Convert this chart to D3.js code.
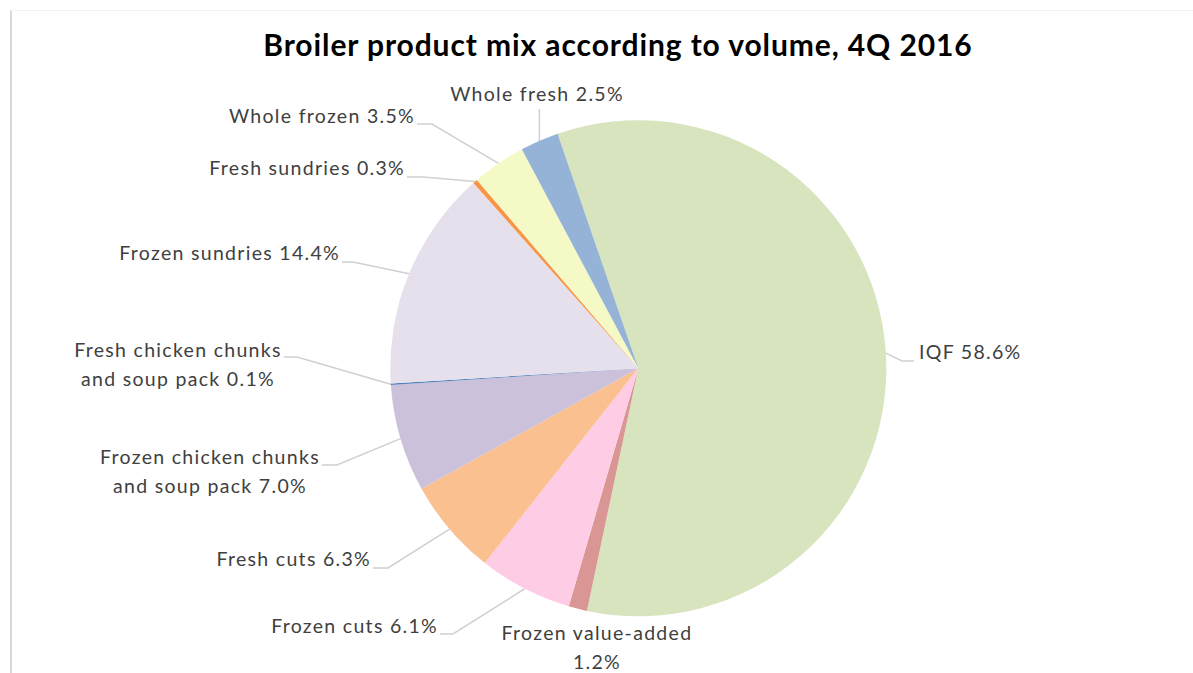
<!DOCTYPE html>
<html>
<head>
<meta charset="utf-8">
<script src="https://cdn.jsdelivr.net/npm/d3@7"></script>
<style>
  html, body { margin: 0; padding: 0; background: #fff; }
  svg { display: block; }
</style>
</head>
<body>
<svg id="chart" width="1193" height="673"></svg>
<script>
// Broiler product mix by volume, 4Q 2016 (percent of total)
const categories = [
  "IQF",
  "Frozen value-added",
  "Frozen cuts",
  "Fresh cuts",
  "Frozen chicken chunks and soup pack",
  "Fresh chicken chunks and soup pack",
  "Frozen sundries",
  "Fresh sundries",
  "Whole frozen",
  "Whole fresh"
];
const shares = [58.6, 1.2, 6.1, 6.3, 7.0, 0.1, 14.4, 0.3, 3.5, 2.5];

// Label text lines (the percentage is appended to the last line)
const labelLines = [
  ["IQF"],
  ["Frozen value-added", ""],
  ["Frozen cuts"],
  ["Fresh cuts"],
  ["Frozen chicken chunks", "and soup pack"],
  ["Fresh chicken chunks", "and soup pack"],
  ["Frozen sundries"],
  ["Fresh sundries"],
  ["Whole frozen"],
  ["Whole fresh"]
];

const sliceColors = [
  "#d7e4bd", "#d99694", "#ffcce6", "#fac090", "#ccc1da",
  "#4f81bd", "#e6e0ec", "#f79646", "#f4f9c6", "#95b3d7"
];

// Label placement: anchor point, text anchor, elbow of leader line
const labelLayout = [
  { x: 919, y: 359, anchor: "start",  elbowX: 902, lineY: 361, leader: "side" },
  { x: 597, y: 640, anchor: "middle", leader: "none" },
  { x: 438, y: 633, anchor: "end",    elbowX: 453, lineY: 634, leader: "side" },
  { x: 371, y: 566, anchor: "end",    elbowX: 388, lineY: 568, leader: "side" },
  { x: 210, y: 464, anchor: "middle", elbowX: 337, lineY: 465, leader: "side" },
  { x: 178, y: 357, anchor: "middle", elbowX: 297, lineY: 357, leader: "side" },
  { x: 340, y: 260, anchor: "end",    elbowX: 353, lineY: 262, leader: "side" },
  { x: 405, y: 175, anchor: "end",    elbowX: 423, lineY: 177, leader: "side" },
  { x: 415, y: 123, anchor: "end",    elbowX: 432, lineY: 124, leader: "side" },
  { x: 537, y: 101, anchor: "middle", lineY: 109, leader: "up" }
];

const W = 1193, H = 673;
const cx = 638.3, cy = 368.3, radius = 248;
const startDeg = -19;
const lineGap = 29;

const svg = d3.select("#chart");

// chart frame
svg.append("line").attr("x1", 11).attr("y1", 10).attr("x2", 11).attr("y2", H)
  .attr("stroke", "#d9d9d9").attr("stroke-width", 2);
svg.append("line").attr("x1", 11).attr("y1", 10.5).attr("x2", W).attr("y2", 10.5)
  .attr("stroke", "#f2f2f2").attr("stroke-width", 1);

// title
svg.append("text")
  .attr("x", 618).attr("y", 56)
  .attr("text-anchor", "middle")
  .attr("font-family", "Lato, 'Open Sans', sans-serif")
  .attr("font-weight", 700)
  .attr("font-size", 30)
  .attr("letter-spacing", 0.9)
  .attr("fill", "#000")
  .text("Broiler product mix according to volume, 4Q 2016");

const rows = categories.map((c, i) => ({ name: c, value: shares[i], idx: i }));

const pie = d3.pie()
  .sort(null)
  .value(d => d.value)
  .startAngle(startDeg * Math.PI / 180)
  .endAngle((startDeg + 360) * Math.PI / 180);

const arc = d3.arc().innerRadius(0).outerRadius(radius);
const arcs = pie(rows);

const g = svg.append("g").attr("transform", `translate(${cx},${cy})`);
g.selectAll("path.slice")
  .data(arcs)
  .join("path")
  .attr("class", "slice")
  .attr("d", arc)
  .attr("fill", d => sliceColors[d.data.idx]);

// labels + leader lines
const fmt = d3.format(".1f");
const labelG = svg.append("g");
const leaderG = svg.insert("g", "g");

arcs.forEach(a => {
  const i = a.data.idx;
  const L = labelLayout[i];
  const lines = labelLines[i].slice();
  const pct = fmt(a.data.value) + "%";
  const last = lines.length - 1;
  lines[last] = lines[last] ? lines[last] + " " + pct : pct;

  const t = labelG.append("text")
    .attr("font-family", "Lato, 'Open Sans', sans-serif")
    .attr("font-size", 19.5)
    .attr("letter-spacing", 1.3)
    .attr("fill", "#404040")
    .attr("text-anchor", L.anchor);
  const spans = lines.map((ln, k) =>
    t.append("tspan").attr("x", L.x).attr("y", L.y + k * lineGap).text(ln));

  if (L.leader === "none") return;

  const mid = (a.startAngle + a.endAngle) / 2;
  const rx = cx + radius * Math.sin(mid);
  const ry = cy - radius * Math.cos(mid);

  let pts;
  if (L.leader === "up") {
    pts = [[rx, L.lineY], [rx, ry]];
  } else {
    const bb = spans[0].node().getBBox();
    const onLeft = rx > L.x;
    const edge = onLeft ? bb.x + bb.width + 2 : bb.x - 5;
    pts = [[edge, L.lineY], [L.elbowX, L.lineY], [rx, ry]];
  }
  leaderG.append("path")
    .attr("d", d3.line()(pts))
    .attr("fill", "none")
    .attr("stroke", "#d0d0d0")
    .attr("stroke-width", 1.5);
});
</script>
</body>
</html>
